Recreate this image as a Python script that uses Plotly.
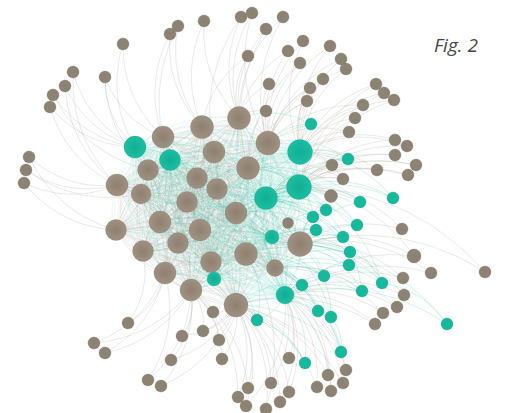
import numpy as np
import plotly.graph_objects as go

# ---- core nodes (pixel-like coordinates) ----
core_x = [163, 202, 239, 268, 214, 148, 248, 197, 117, 141, 217, 187, 236, 160, 200, 116, 178, 143, 246, 300, 211, 165, 191, 236, 275,
          135, 170, 300, 299, 266, 285, 214, 272]
core_y = [137, 127, 118, 143, 152, 170, 168, 178, 185, 194, 189, 202, 213, 222, 230, 230, 243, 251, 254, 244, 262, 273, 290, 305, 268,
          147, 160, 152, 187, 198, 295, 279, 237]
core_r = [11, 11.5, 11.5, 12, 11, 10.5, 11.5, 10.5, 11, 10, 10.5, 10.5, 11, 11, 11, 10.5, 10.5, 10.5, 11.5, 12.5, 10.5, 11, 11, 12, 8.5,
          11, 10.5, 12.5, 12.5, 11.5, 9, 7, 7]
core_kind = ["b"] * 25 + ["t"] * 8

# ---- small teal satellites: position and connected core nodes ----
steal_x = [311, 348, 326, 313, 316, 357, 343, 350, 349, 324, 302, 362, 382, 393, 360, 318, 331, 257, 447, 341, 305]
steal_y = [124, 159, 210, 217, 230, 225, 237, 252, 265, 276, 285, 291, 283, 198, 202, 311, 317, 320, 324, 352, 363]
steal_targets = [
    [27, 3, 2, 6, 28], [27, 28, 3, 29, 6], [28, 29, 19, 12, 6, 32], [28, 29, 19, 12, 18],
    [29, 19, 32, 18, 12], [28, 19, 29, 6], [19, 29, 32, 18, 24], [19, 24, 32, 18, 29],
    [19, 24, 18, 30], [19, 24, 30, 18, 20], [24, 30, 18, 23, 20], [19, 24, 30, 28],
    [19, 24, 28, 29], [28, 27, 29], [28, 29, 19, 6], [30, 24, 23, 18],
    [30, 24, 19, 32], [23, 30, 18, 20], [30, 19], [30, 23, 24], [30, 23],
]

# ---- small brown satellites: position and connected core nodes ----
sbrown_x = [123, 105, 73, 65, 53, 50, 29, 26, 24, 170, 178, 204, 241, 252, 248, 283, 266, 303, 288, 330,
            341, 346, 300, 323, 269, 310, 307, 376, 384, 394, 363, 355, 349, 266, 395, 407, 395, 416, 408, 377,
            402, 414, 431, 485, 403, 404, 397, 383, 375, 289, 328, 346, 343, 317, 331, 271, 289, 280, 266, 248,
            238, 246, 213, 128, 94, 105, 182, 203, 219, 171, 222, 148, 161, 332, 343, 331, 288]
sbrown_y = [44, 77, 72, 86, 95, 107, 157, 170, 183, 34, 26, 21, 17, 13, 56, 17, 29, 41, 51, 46,
            59, 69, 63, 79, 84, 88, 101, 84, 93, 100, 105, 118, 132, 111, 140, 146, 155, 165, 175, 170,
            229, 256, 273, 272, 278, 295, 307, 313, 324, 358, 375, 370, 383, 387, 391, 383, 392, 402, 409, 388,
            397, 406, 312, 323, 343, 353, 336, 331, 340, 360, 359, 380, 386, 165, 179, 196, 223]
sbrown_r = [6] * 41 + [7] + [6] * 31 + [6, 6, 6.5, 5.5]
sbrown_targets = [
    [25, 0], [25, 0, 5], [25, 8], [25, 8], [25, 5], [25, 8], [8, 15], [8, 9], [8, 15], [0, 1],
    [1, 26], [1, 2], [2, 4], [2, 3], [2, 1], [3, 2], [2, 6], [3, 27], [3, 2], [27, 3],
    [27, 3], [27, 3], [3, 6], [27, 3], [2, 3], [3, 27], [3, 27, 6], [27, 28], [27, 28], [27, 28],
    [27, 3], [27, 28], [27, 3], [2, 3, 6], [27, 28], [28, 27], [28, 29], [28, 29], [28, 29], [28, 27],
    [28, 19], [19, 30, 28], [30, 19], [19, 28], [19, 30], [30, 19], [30, 24], [30, 24], [30, 23], [30, 23],
    [30, 23], [30, 24], [30, 23], [30, 23], [30, 24], [23, 30], [30, 23], [23, 30], [23, 18], [23, 22],
    [23, 22], [23, 30], [22, 23], [21, 17], [21, 22], [22, 21], [22, 23], [22, 23], [23, 22], [22, 23],
    [23, 22], [22, 21], [22, 23], [27, 28, 3, 29], [28, 27, 29, 6], [28, 29, 19, 6], [29, 19, 12, 28, 32],
]
# extra satellite-to-satellite links (teal index -> teal index)
teal_links = [[12, 7], [12, 8], [18, 12], [19, 15], [19, 16], [11, 9], [20, 17]]

TEAL = "#17b99d"
BROWN_S = "#8d8373"


def curve(x0, y0, x1, y1, k=0.22, n=18):
    dx, dy = x1 - x0, y1 - y0
    cx, cy = (x0 + x1) / 2 - k * dy, (y0 + y1) / 2 + k * dx
    t = np.linspace(0, 1, n)
    xs = (1 - t) ** 2 * x0 + 2 * (1 - t) * t * cx + t ** 2 * x1
    ys = (1 - t) ** 2 * y0 + 2 * (1 - t) * t * cy + t ** 2 * y1
    return list(xs) + [None], list(ys) + [None]


gx, gy, tx, ty, sx, sy, ox, oy = [], [], [], [], [], [], [], []

ncore = len(core_x)
for i in range(ncore):
    for j in range(ncore):
        if i == j:
            continue
        a, b = curve(core_x[i], core_y[i], core_x[j], core_y[j], k=0.2)
        if core_kind[i] == "t" or core_kind[j] == "t":
            tx += a; ty += b
        else:
            gx += a; gy += b

for s in range(len(steal_x)):
    for c in steal_targets[s]:
        a, b = curve(steal_x[s], steal_y[s], core_x[c], core_y[c])
        sx += a; sy += b
for s, d in teal_links:
    a, b = curve(steal_x[s], steal_y[s], steal_x[d], steal_y[d])
    sx += a; sy += b

for s in range(len(sbrown_x)):
    for c in sbrown_targets[s]:
        a, b = curve(sbrown_x[s], sbrown_y[s], core_x[c], core_y[c])
        ox += a; oy += b

fig = go.Figure()
fig.add_trace(go.Scatter(x=gx, y=gy, mode="lines", line=dict(color="rgba(170,160,152,0.24)", width=0.5),
                         hoverinfo="skip", showlegend=False))
fig.add_trace(go.Scatter(x=ox, y=oy, mode="lines", line=dict(color="rgba(190,185,180,0.45)", width=0.7),
                         hoverinfo="skip", showlegend=False))
fig.add_trace(go.Scatter(x=tx, y=ty, mode="lines", line=dict(color="rgba(26,188,156,0.19)", width=0.5),
                         hoverinfo="skip", showlegend=False))
fig.add_trace(go.Scatter(x=sx, y=sy, mode="lines", line=dict(color="rgba(26,188,156,0.32)", width=0.6),
                         hoverinfo="skip", showlegend=False))

# satellites
fig.add_trace(go.Scatter(x=sbrown_x, y=sbrown_y, mode="markers",
                         marker=dict(size=[2 * r for r in sbrown_r], color=BROWN_S, opacity=1,
                                     line=dict(width=0.6, color="rgba(110,100,90,0.5)")),
                         hoverinfo="skip", showlegend=False))
fig.add_trace(go.Scatter(x=steal_x, y=steal_y, mode="markers",
                         marker=dict(size=12, color=TEAL, opacity=1,
                                     line=dict(width=0.6, color="rgba(10,140,120,0.5)")),
                         hoverinfo="skip", showlegend=False))

bx = [core_x[i] for i in range(ncore) if core_kind[i] == "b"]
by = [core_y[i] for i in range(ncore) if core_kind[i] == "b"]
bs = [2 * core_r[i] for i in range(ncore) if core_kind[i] == "b"]
ttx = [core_x[i] for i in range(ncore) if core_kind[i] == "t"]
tty = [core_y[i] for i in range(ncore) if core_kind[i] == "t"]
tts = [2 * core_r[i] for i in range(ncore) if core_kind[i] == "t"]

fig.add_trace(go.Scatter(x=bx, y=by, mode="markers",
                         marker=dict(size=bs, color="#a09282", opacity=1,
                                     gradient=dict(type="radial", color="#8d8071"),
                                     line=dict(width=0.6, color="rgba(110,100,90,0.4)")),
                         hoverinfo="skip", showlegend=False))
fig.add_trace(go.Scatter(x=ttx, y=tty, mode="markers",
                         marker=dict(size=tts, color="#1bbfa2", opacity=1,
                                     gradient=dict(type="radial", color="#12ad93"),
                                     line=dict(width=0.6, color="rgba(10,140,120,0.4)")),
                         hoverinfo="skip", showlegend=False))

fig.add_annotation(x=456, y=45, xref="x", yref="y", text="<i>Fig. 2</i>", showarrow=False,
                   font=dict(family="Open Sans", size=19, color="#444444"))

fig.update_layout(width=505, height=413, margin=dict(l=0, r=0, t=0, b=0),
                  paper_bgcolor="white", plot_bgcolor="white",
                  xaxis=dict(range=[0, 505], visible=False, fixedrange=True),
                  yaxis=dict(range=[413, 0], visible=False, fixedrange=True))
fig.write_html("out.html", config={"displayModeBar": False},
               post_script="document.body.style.margin='0';document.body.style.overflow='hidden';")
